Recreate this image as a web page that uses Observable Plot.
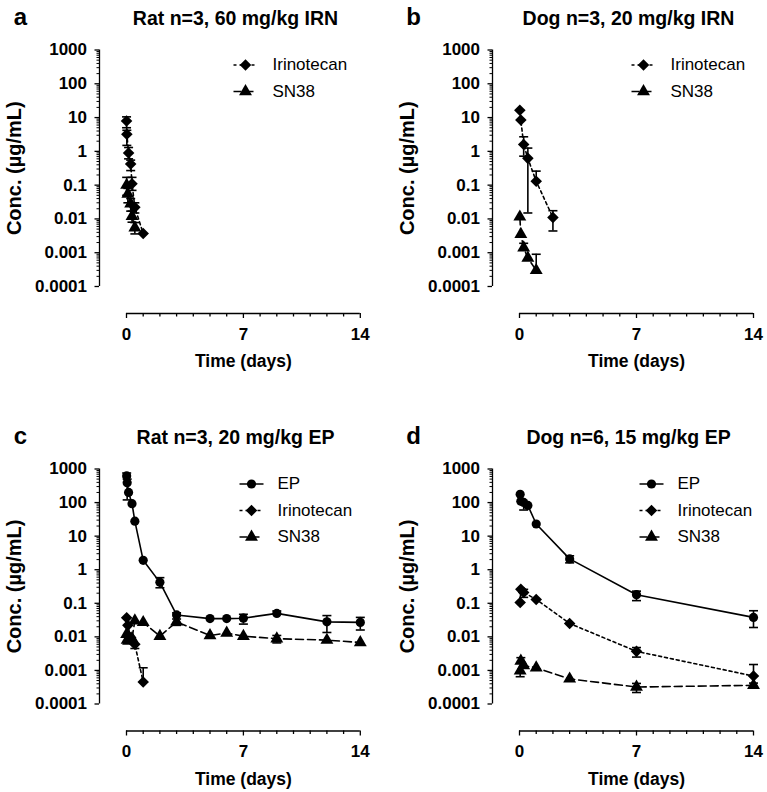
<!DOCTYPE html>
<html><head><meta charset="utf-8">
<script src="https://cdn.jsdelivr.net/npm/d3@7"></script>
<script src="https://cdn.jsdelivr.net/npm/@observablehq/plot@0.6"></script>
<style>
body{margin:0;background:#fff;}
#fig{position:relative;width:767px;height:792px;background:#fff;}
.panel{position:absolute;}
</style></head><body><div id="fig"></div>
<script>
// ---------- axis ticks ----------
const yMajor = [1e-4, 1e-3, 1e-2, 1e-1, 1, 10, 100, 1000];
const yMajorLabels = ["0.0001", "0.001", "0.01", "0.1", "1", "10", "100", "1000"];
const xMajor = [0, 7, 14];
const xMinor = [1, 2, 3, 4, 5, 6, 8, 9, 10, 11, 12, 13];
const seriesNames = ["EP", "Irinotecan", "SN38"];

// ---------- panel a: Rat n=3, 60 mg/kg IRN ----------
const aIrnTime = [0.003, 0.02, 0.125, 0.25, 0.33, 0.5, 1];
const aIrnConc = [7.9, 3.2, 0.9, 0.42, 0.11, 0.022, 0.0037];
const aIrnLo   = [5.0, 1.5, 0.6, 0.27, 0.07, 0.015, null];
const aIrnHi   = [10.5, 4.2, 1.3, 0.55, 0.17, 0.03, null];
const aSnTime  = [0.01, 0.08, 0.25, 0.33, 0.5];
const aSnConc  = [0.1, 0.055, 0.028, 0.012, 0.0055];
const aSnLo    = [0.05, 0.03, 0.017, 0.008, 0.0036];
const aSnHi    = [0.17, 0.08, 0.04, 0.017, 0.0078];

// ---------- panel b: Dog n=3, 20 mg/kg IRN ----------
const bIrnTime = [0.02, 0.08, 0.25, 0.5, 1, 2];
const bIrnConc = [16.5, 8.5, 1.6, 0.62, 0.13, 0.011];
const bIrnLo   = [null, null, 0.72, 0.015, null, 0.0044];
const bIrnHi   = [null, null, 2.7, 1.25, 0.26, 0.0175];
const bSnTime  = [0.02, 0.08, 0.25, 0.5, 1];
const bSnConc  = [0.0115, 0.0035, 0.0014, 0.0007, 0.0003];
const bSnLo    = [null, null, null, null, null];
const bSnHi    = [null, null, 0.0019, null, 0.0009];

// ---------- panel c: Rat n=3, 20 mg/kg EP ----------
const cEpTime  = [0.01, 0.04, 0.125, 0.33, 0.5, 1, 2, 3, 5, 6, 7, 9, 12, 14];
const cEpConc  = [620, 390, 200, 93, 28, 1.9, 0.42, 0.045, 0.035, 0.035, 0.036, 0.05, 0.028, 0.027];
const cEpLo    = [null, 120, null, null, null, null, 0.29, null, null, null, 0.024, null, 0.0135, 0.016];
const cEpHi    = [760, 500, null, null, null, null, 0.58, 0.052, null, null, 0.047, 0.059, 0.043, 0.038];
const cIrnTime = [0.01, 0.08, 0.25, 0.5, 1];
const cIrnConc = [0.037, 0.022, 0.0095, 0.006, 0.00045];
const cIrnLo   = [null, null, null, 0.0045, null];
const cIrnHi   = [null, null, null, null, 0.0012];
const cSnTime  = [0.01, 0.04, 0.125, 0.33, 0.5, 1, 2, 3, 5, 6, 7, 9, 12, 14];
const cSnConc  = [0.012, 0.008, 0.0075, 0.009, 0.03, 0.027, 0.0105, 0.028, 0.011, 0.013, 0.0105, 0.0088, 0.008, 0.0068];
const cSnLo    = [null, null, null, null, null, null, null, 0.022, null, null, null, 0.0066, null, null];
const cSnHi    = [null, null, null, null, null, null, null, 0.034, null, null, null, 0.011, null, null];

// ---------- panel d: Dog n=6, 15 mg/kg EP ----------
const dEpTime  = [0.04, 0.08, 0.25, 0.5, 1, 3, 7, 14];
const dEpConc  = [176, 110, 101, 82, 23, 2.1, 0.18, 0.038];
const dEpLo    = [null, null, 60, null, null, 1.6, 0.12, 0.019];
const dEpHi    = [null, null, null, null, null, 2.6, 0.23, 0.06];
const dIrnTime = [0.04, 0.08, 0.25, 1, 3, 7, 14];
const dIrnConc = [0.105, 0.26, 0.21, 0.13, 0.025, 0.0037, 0.00068];
const dIrnLo   = [null, null, 0.15, null, null, 0.0025, 0.00042];
const dIrnHi   = [null, null, 0.26, null, null, 0.0048, 0.0015];
const dSnTime  = [0.04, 0.08, 0.25, 1, 3, 7, 14];
const dSnConc  = [0.00098, 0.0019, 0.0014, 0.0012, 0.00056, 0.00032, 0.00036];
const dSnLo    = [0.00065, null, null, null, null, 0.00022, null];
const dSnHi    = [null, 0.0024, null, null, null, 0.00041, null];

// ---------- styling ----------
const FONT = "'Liberation Sans', Arial, Helvetica, sans-serif";
const styles = {
  EP: {symbol: "circle", r: 4.6, dash: undefined},
  Irinotecan: {symbol: "diamond2", r: 5.2, dash: "3,3"},
  SN38: {symbol: "triangle", r: 4.8, dash: "8,4"}
};
const capSymbol = {draw(ctx) { ctx.moveTo(-4.5, 0); ctx.lineTo(4.5, 0); }};
const legendLine = {draw(ctx) { ctx.moveTo(-12, 0); ctx.lineTo(12, 0); }};

const ML = 126, MT = 49.5;

function label(txt, opts) {
  return Plot.text([txt], {text: d => d, textAnchor: "middle", lineAnchor: "middle", fill: "black", ...opts});
}

function drawPanel(cfg) {
  const {left, top, width, height, marginRight, marginBottom, letter, title, series, legendX, textX} = cfg;
  const yDx = 99 - ML;
  const xDy = 27;
  const marks = [];
  // y axis
  const yMinor = [];
  for (let k = -4; k < 3; k++) for (let m = 2; m <= 9; m++) yMinor.push(m * Math.pow(10, k));
  marks.push(Plot.ruleX([0], {y1: 1e-4, y2: 1e3, dx: yDx, stroke: "black", strokeWidth: 1.3}));
  marks.push(Plot.axisY(yMinor, {tickSize: 2.5, tickFormat: () => "", dx: yDx, label: null, strokeWidth: 1}));
  marks.push(Plot.axisY(yMajor, {tickSize: 4.5, tickPadding: 8, dx: yDx, label: null, strokeWidth: 1.3,
    tickFormat: d => yMajorLabels[yMajor.indexOf(d)], fontSize: 17, fontWeight: "bold", fill: "black"}));
  // x axis
  marks.push(Plot.ruleY([1e-4], {x1: 0, x2: 14, dy: xDy, stroke: "black", strokeWidth: 1.3}));
  marks.push(Plot.axisX(xMinor, {tickSize: 3.5, tickFormat: () => "", dy: xDy, label: null, strokeWidth: 1.3}));
  marks.push(Plot.axisX(xMajor, {tickSize: 5, tickPadding: 9, dy: xDy, label: null, strokeWidth: 1.3,
    fontSize: 17, fontWeight: "bold", fill: "black"}));
  // axis titles
  marks.push(label("Conc. (µg/mL)", {frameAnchor: "left", dx: 14 - ML, rotate: -90, fontSize: 20, fontWeight: "bold"}));
  marks.push(label("Time (days)", {frameAnchor: "bottom", dy: 75, fontSize: 17.5, fontWeight: "bold"}));
  // title and letter
  marks.push(label(title, {frameAnchor: "top-left", dx: 235 - ML, dy: 18 - MT, fontSize: 19.5, fontWeight: "bold"}));
  marks.push(label(letter, {frameAnchor: "top-left", dx: 20 - ML, dy: 17 - MT, fontSize: 24, fontWeight: "bold"}));
  // data
  series.forEach((s, i) => {
    const st = styles[s.name];
    const data = s.time.map((t, j) => ({t, v: s.conc[j], lo: s.lo[j], hi: s.hi[j]}));
    marks.push(Plot.line(data, {x: "t", y: "v", stroke: "black", strokeWidth: 1.6, strokeDasharray: st.dash}));
    const bars = data.filter(d => d.lo != null || d.hi != null)
      .map(d => ({t: d.t, y1: d.lo != null ? d.lo : d.v, y2: d.hi != null ? d.hi : d.v}));
    marks.push(Plot.ruleX(bars, {x: "t", y1: "y1", y2: "y2", stroke: "black", strokeWidth: 1.6}));
    const caps = data.flatMap(d => [d.lo, d.hi].filter(e => e != null).map(e => ({t: d.t, e})));
    marks.push(Plot.dot(caps, {x: "t", y: "e", symbol: capSymbol, stroke: "black", fill: "none", strokeWidth: 1.6}));
    marks.push(Plot.dot(data, {x: "t", y: "v", symbol: st.symbol, r: st.r, fill: "black"}));
    // legend
    const rowY = 64.5 + i * 26.5;
    marks.push(Plot.dot([0], {frameAnchor: "top-left", dx: legendX - ML, dy: rowY - MT, symbol: legendLine,
      stroke: "black", fill: "none", strokeWidth: 1.5, strokeDasharray: st.dash}));
    marks.push(Plot.dot([0], {frameAnchor: "top-left", dx: legendX - ML, dy: rowY - MT, symbol: st.symbol,
      r: st.r, fill: "black"}));
    marks.push(label(s.name, {frameAnchor: "top-left", dx: textX - ML, dy: rowY - MT, textAnchor: "start", fontSize: 17}));
  });

  const chart = Plot.plot({
    width, height,
    marginLeft: ML, marginRight, marginTop: MT, marginBottom,
    style: {fontFamily: FONT, color: "black", background: "white", overflow: "visible"},
    x: {type: "linear", domain: [0, 14]},
    y: {type: "log", domain: [1e-4, 1e3]},
    marks
  });
  const div = document.createElement("div");
  div.className = "panel";
  div.style.left = left + "px";
  div.style.top = top + "px";
  div.appendChild(chart);
  document.getElementById("fig").appendChild(div);
}

drawPanel({left: 0, top: 0, width: 393, height: 419, marginRight: 33.2, marginBottom: 133,
  letter: "a", title: "Rat n=3, 60 mg/kg IRN", legendX: 245, textX: 272,
  series: [
    {name: seriesNames[1], time: aIrnTime, conc: aIrnConc, lo: aIrnLo, hi: aIrnHi},
    {name: seriesNames[2], time: aSnTime, conc: aSnConc, lo: aSnLo, hi: aSnHi}
  ]});
drawPanel({left: 393, top: 0, width: 374, height: 419, marginRight: 14, marginBottom: 133,
  letter: "b", title: "Dog n=3, 20 mg/kg IRN", legendX: 250, textX: 277,
  series: [
    {name: seriesNames[1], time: bIrnTime, conc: bIrnConc, lo: bIrnLo, hi: bIrnHi},
    {name: seriesNames[2], time: bSnTime, conc: bSnConc, lo: bSnLo, hi: bSnHi}
  ]});
drawPanel({left: 0, top: 419, width: 393, height: 373, marginRight: 33.2, marginBottom: 88.5,
  letter: "c", title: "Rat n=3, 20 mg/kg EP", legendX: 251, textX: 277,
  series: [
    {name: seriesNames[0], time: cEpTime, conc: cEpConc, lo: cEpLo, hi: cEpHi},
    {name: seriesNames[1], time: cIrnTime, conc: cIrnConc, lo: cIrnLo, hi: cIrnHi},
    {name: seriesNames[2], time: cSnTime, conc: cSnConc, lo: cSnLo, hi: cSnHi}
  ]});
drawPanel({left: 393, top: 419, width: 374, height: 373, marginRight: 14, marginBottom: 88.5,
  letter: "d", title: "Dog n=6, 15 mg/kg EP", legendX: 258, textX: 284,
  series: [
    {name: seriesNames[0], time: dEpTime, conc: dEpConc, lo: dEpLo, hi: dEpHi},
    {name: seriesNames[1], time: dIrnTime, conc: dIrnConc, lo: dIrnLo, hi: dIrnHi},
    {name: seriesNames[2], time: dSnTime, conc: dSnConc, lo: dSnLo, hi: dSnHi}
  ]});
</script></body></html>
